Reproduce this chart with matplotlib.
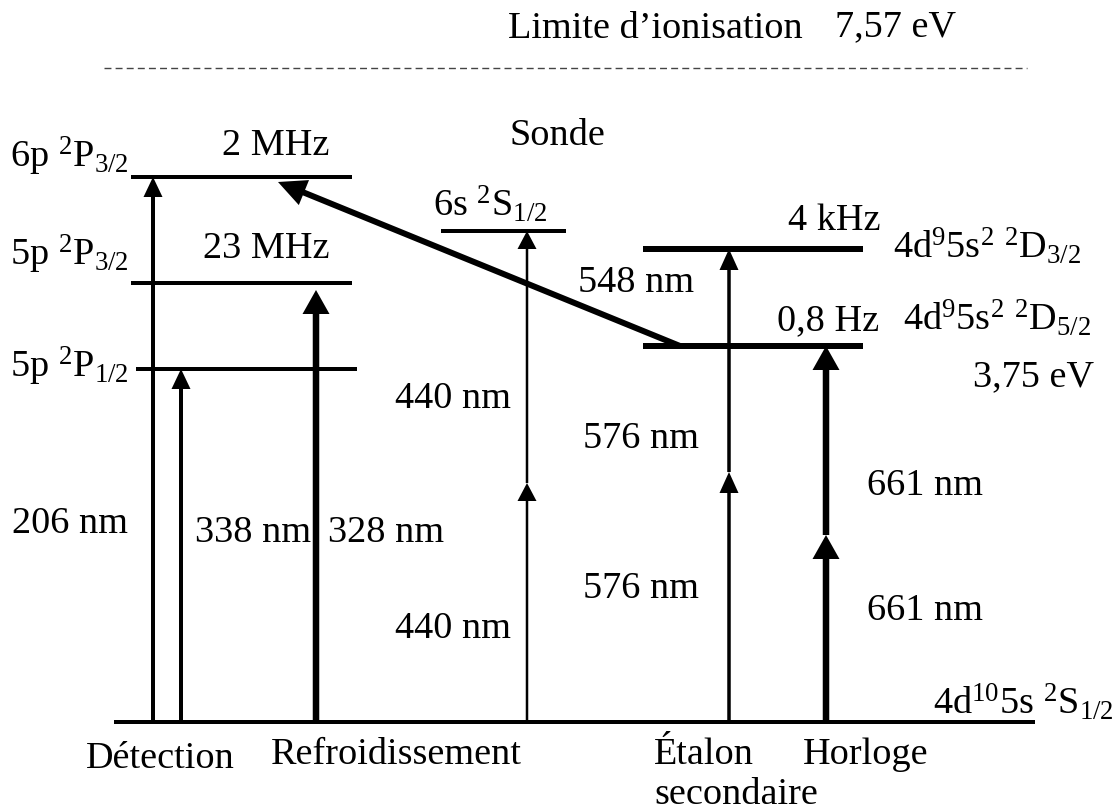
import matplotlib
matplotlib.use("Agg")
import matplotlib.pyplot as plt

plt.rcParams['font.family'] = ['Liberation Serif', 'DejaVu Serif']
plt.rcParams['mathtext.fontset'] = 'custom'
plt.rcParams['mathtext.rm'] = 'Liberation Serif'
plt.rcParams['mathtext.it'] = 'Liberation Serif:italic'

FS = 27.5

# energy levels: label, y, x start, x end, thickness
level_names = ['ground', '6p 2P3/2', '5p 2P3/2', '5p 2P1/2', '6s 2S1/2', '2D3/2', '2D5/2']
level_y = [722, 177, 283, 369, 231, 249, 346]
level_x0 = [114, 131, 131, 136, 441, 643, 643]
level_x1 = [1035, 352, 352, 357, 566, 863, 863]
level_lw = [4, 4, 4, 4, 4, 6, 6]

# vertical transitions: x, start y, end y, intermediate head (None = single photon), line width, head size
arrow_x = [153, 181, 316, 527, 729, 826]
arrow_y0 = [722, 722, 722, 722, 722, 722]
arrow_y1 = [177, 369, 290, 231, 249, 346]
arrow_mid = [None, None, None, 483, 472, 535]
arrow_w = [4, 4, 6.5, 2.5, 3.5, 6.5]
arrow_head = [(19, 20), (19, 20), (27, 24), (19, 18), (19, 21), (27, 24)]

# probe transition 548 nm
probe_from = (680, 346)
probe_to = (278, 182)

# texts: string, x, baseline y
labels = [
    ("Limite d\u2019ionisation", 508, 38),
    ("7,57 eV", 835, 36),
    (r"6p $\mathrm{^{2}P_{3/2}}$", 10, 167),
    ("2 MHz", 222, 155),
    (r"5p $\mathrm{^{2}P_{3/2}}$", 10, 266),
    ("23 MHz", 203, 258),
    (r"5p $\mathrm{^{2}P_{1/2}}$", 10, 377),
    ("Sonde", 510, 145),
    (r"6s $\mathrm{^{2}S_{1/2}}$", 433, 216),
    ("548 nm", 578, 292),
    ("4 kHz", 788, 230),
    (r"4d$\mathrm{^{9}}$5s$\mathrm{^{2}}$ $\mathrm{^{2}D_{3/2}}$", 893, 258),
    ("0,8 Hz", 777, 330),
    (r"4d$\mathrm{^{9}}$5s$\mathrm{^{2}}$ $\mathrm{^{2}D_{5/2}}$", 903, 330),
    ("3,75 eV", 973, 386),
    ("206 nm", 12, 533),
    ("338 nm", 195, 542),
    ("328 nm", 328, 542),
    ("440 nm", 395, 408),
    ("440 nm", 395, 638),
    ("576 nm", 583, 448),
    ("576 nm", 583, 598),
    ("661 nm", 867, 495),
    ("661 nm", 867, 620),
    (r"4d$\mathrm{^{10}}$5s $\mathrm{^{2}S_{1/2}}$", 933, 714),
    ("D\u00e9tection", 86, 768),
    ("Refroidissement", 271, 764),
    ("\u00c9talon", 654, 764),
    ("Horloge", 803, 764),
    ("secondaire", 654, 804),
]

fig = plt.figure(figsize=(11.14, 8.11), dpi=100)
ax = fig.add_axes([0, 0, 1, 1])
ax.set_xlim(0, 1114)
ax.set_ylim(811, 0)
ax.axis('off')

# ionisation limit
ax.plot([104, 1027], [68, 68], color='#444444', lw=1.0, linestyle=(0, (5, 3)))

for y, x0, x1, lw in zip(level_y, level_x0, level_x1, level_lw):
    ax.plot([x0, x1], [y, y], color='black', lw=lw * 0.72, solid_capstyle='butt')

for x, y0, y1, mid, w, (hw, hl) in zip(arrow_x, arrow_y0, arrow_y1, arrow_mid, arrow_w, arrow_head):
    if mid is None:
        ax.arrow(x, y0, 0, y1 - y0, width=w, head_width=hw, head_length=hl,
                 length_includes_head=True, color='black', lw=0)
    else:
        ax.arrow(x, y0, 0, mid - y0, width=w, head_width=hw, head_length=hl,
                 length_includes_head=True, color='black', lw=0)
        ax.arrow(x, mid, 0, y1 - mid, width=w, head_width=hw, head_length=hl,
                 length_includes_head=True, color='black', lw=0)

ax.arrow(probe_from[0], probe_from[1], probe_to[0] - probe_from[0], probe_to[1] - probe_from[1],
         width=6, head_width=27, head_length=28, length_includes_head=True,
         color='black', lw=0)

for s, x, y in labels:
    ax.text(x, y, s, fontsize=FS, ha='left', va='baseline', color='black')

fig.savefig('out.png', dpi=100)
